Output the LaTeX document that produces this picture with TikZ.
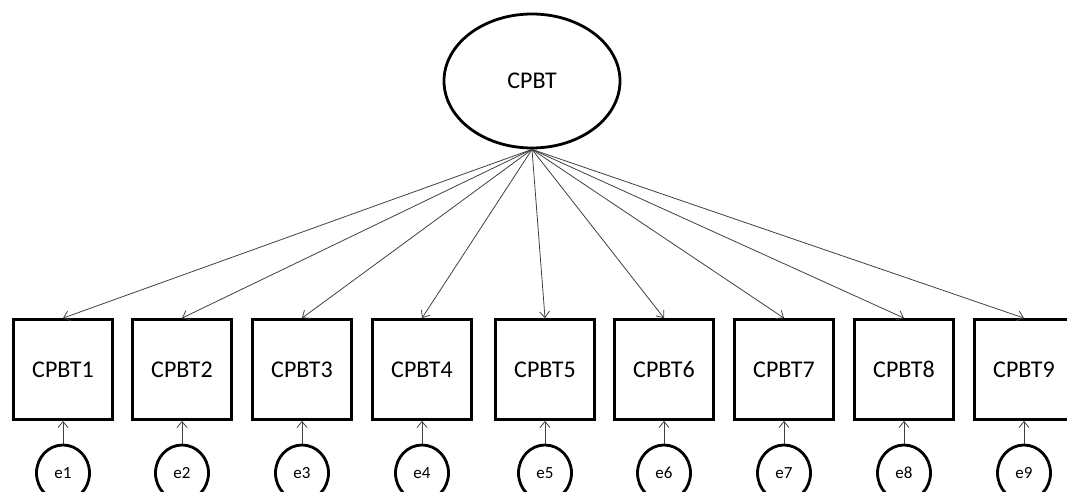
\documentclass[tikz,border=0pt]{standalone}
\usepackage{fontspec}
\setmainfont{Carlito}
\usetikzlibrary{shapes.geometric,arrows.meta}
\begin{document}
\begin{tikzpicture}[x=1pt,y=-1pt,
  latent/.style={draw, ellipse, line width=2.8pt, inner sep=0pt,
    minimum width=176pt, minimum height=134pt, font=\fontsize{24}{28}\selectfont},
  indicator/.style={draw, rectangle, line width=2.8pt, inner sep=0pt,
    minimum width=99pt, minimum height=100pt, font=\fontsize{24}{28}\selectfont},
  residual/.style={draw, ellipse, line width=2.8pt, inner sep=0pt,
    minimum width=53pt, minimum height=56pt, font=\fontsize{17}{20}\selectfont},
  path/.style={draw=black!75, line width=0.8pt, -{Straight Barb[length=6pt,width=10pt]}}
]
\useasboundingbox (0,0) rectangle (1067,492);
\clip (0,0) rectangle (1067,492);

% latent factor
\node[latent] (F) at (532,81) {CPBT};

% indicators with their residual terms
\foreach \i/\x in {1/63, 2/182, 3/302, 4/422, 5/545, 6/664, 7/784, 8/904, 9/1024} {
  \node[indicator] (V\i) at (\x,369.5) {CPBT\i};
  \node[residual] (E\i) at (\x,473) {e\i};
  \draw[path] (F.south) -- (V\i.north);
  \draw[path] (E\i.north) -- (V\i.south);
}
\end{tikzpicture}
\end{document}
